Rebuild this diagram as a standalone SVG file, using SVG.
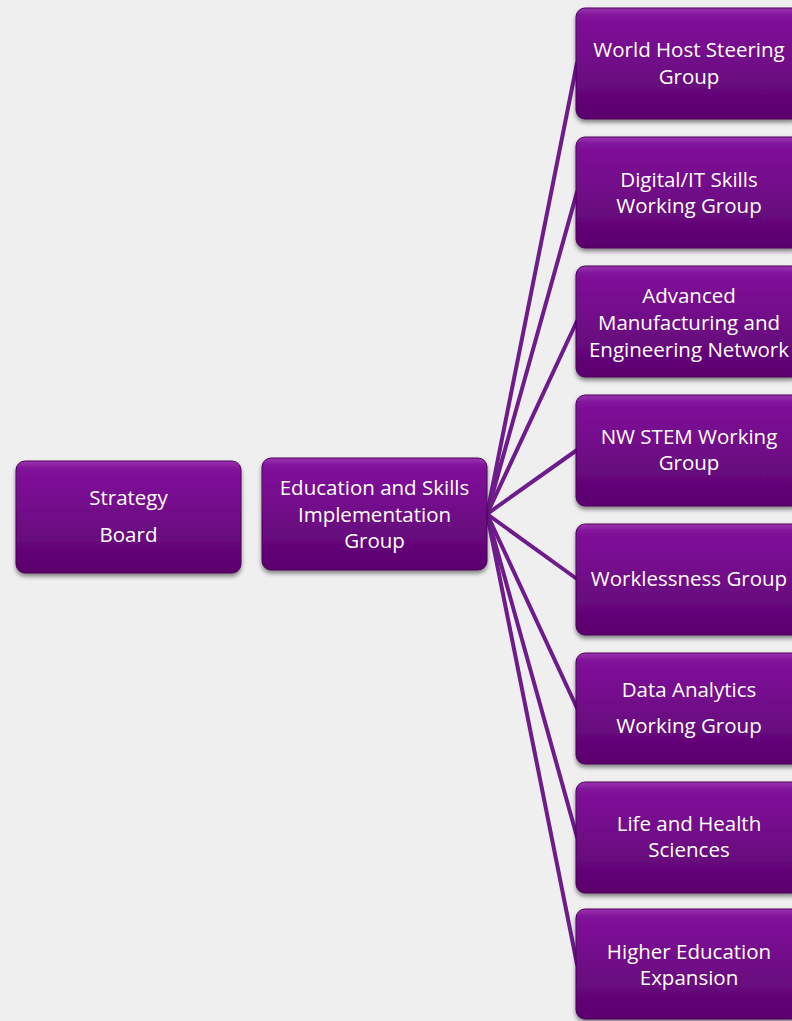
<svg xmlns="http://www.w3.org/2000/svg" width="792" height="1021" viewBox="0 0 792 1021">
<defs>
<linearGradient id="g" x1="0" y1="0" x2="0" y2="1">
<stop offset="0" stop-color="#9a35b0"/>
<stop offset="0.07" stop-color="#80129a"/>
<stop offset="0.5" stop-color="#700987"/>
<stop offset="1" stop-color="#5a046d"/>
</linearGradient>
<filter id="sh" x="-10%" y="-10%" width="120%" height="130%">
<feDropShadow dx="0" dy="3" stdDeviation="2" flood-color="#000" flood-opacity="0.45"/>
</filter>
</defs>
<style>
.box{fill:url(#g);stroke:#4a0459;stroke-width:1;filter:url(#sh)}
.t{font-family:"Open Sans",Lato,sans-serif;font-size:20.5px;fill:#ffffff;text-anchor:middle}
.c{stroke:#6e1b8c;stroke-width:4;fill:none;stroke-linecap:round}
</style>
<rect width="792" height="1021" fill="#efefef"/>
<g id="connectors">
<line class="c" x1="487" y1="514" x2="577" y2="63"/>
<line class="c" x1="487" y1="514" x2="577" y2="192"/>
<line class="c" x1="487" y1="514" x2="577" y2="321"/>
<line class="c" x1="487" y1="514" x2="577" y2="450"/>
<line class="c" x1="487" y1="514" x2="577" y2="579"/>
<line class="c" x1="487" y1="514" x2="577" y2="708"/>
<line class="c" x1="487" y1="514" x2="577" y2="837"/>
<line class="c" x1="487" y1="514" x2="577" y2="964"/>
</g>
<g id="strategy-board">
<rect class="box" x="16" y="461" width="225" height="112" rx="9"/>
<text class="t" x="128.5" y="505">Strategy</text>
<text class="t" x="128.5" y="542">Board</text>
</g>
<g id="education-skills">
<rect class="box" x="262" y="458" width="225" height="112" rx="9"/>
<text class="t" x="374.5" y="495">Education and Skills</text>
<text class="t" x="374.5" y="522">Implementation</text>
<text class="t" x="374.5" y="548">Group</text>
</g>
<g id="world-host">
<rect class="box" x="576" y="8" width="225" height="111" rx="9"/>
<text class="t" x="689" y="57">World Host Steering</text>
<text class="t" x="689" y="84">Group</text>
</g>
<g id="digital-it">
<rect class="box" x="576" y="137" width="225" height="111" rx="9"/>
<text class="t" x="689" y="187">Digital/IT Skills</text>
<text class="t" x="689" y="213">Working Group</text>
</g>
<g id="advanced-manufacturing">
<rect class="box" x="576" y="266" width="225" height="111" rx="9"/>
<text class="t" x="689" y="303">Advanced</text>
<text class="t" x="689" y="330">Manufacturing and</text>
<text class="t" x="689" y="357">Engineering Network</text>
</g>
<g id="nw-stem">
<rect class="box" x="576" y="395" width="225" height="111" rx="9"/>
<text class="t" x="689" y="444">NW STEM Working</text>
<text class="t" x="689" y="470">Group</text>
</g>
<g id="worklessness">
<rect class="box" x="576" y="524" width="225" height="111" rx="9"/>
<text class="t" x="689" y="586">Worklessness Group</text>
</g>
<g id="data-analytics">
<rect class="box" x="576" y="653" width="225" height="111" rx="9"/>
<text class="t" x="689" y="697">Data Analytics</text>
<text class="t" x="689" y="733">Working Group</text>
</g>
<g id="life-health">
<rect class="box" x="576" y="782" width="225" height="111" rx="9"/>
<text class="t" x="689" y="831">Life and Health</text>
<text class="t" x="689" y="857">Sciences</text>
</g>
<g id="higher-education">
<rect class="box" x="576" y="909" width="225" height="110" rx="9"/>
<text class="t" x="689" y="959">Higher Education</text>
<text class="t" x="689" y="985">Expansion</text>
</g>
</svg>
